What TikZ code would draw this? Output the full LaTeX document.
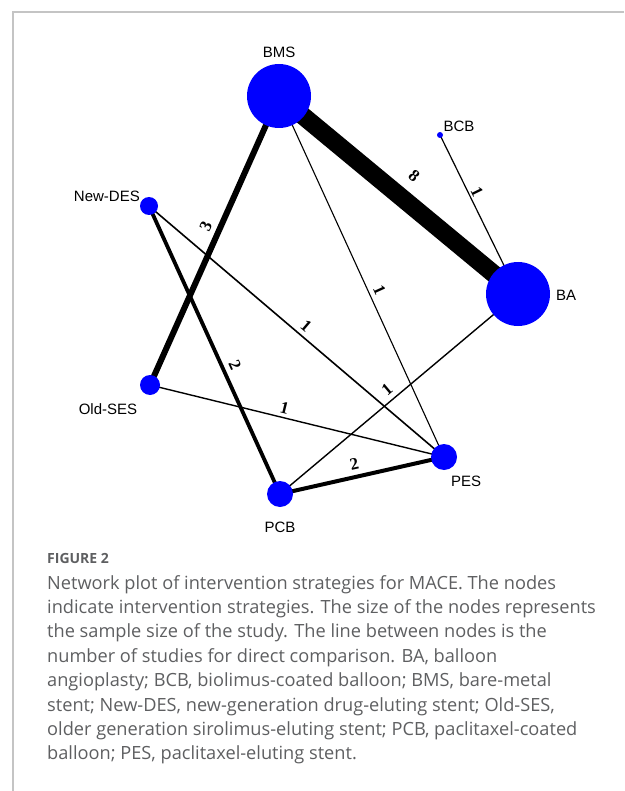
\documentclass[tikz,border=0pt]{standalone}
\usepackage{fontspec}
\setmainfont{Liberation Serif}
\newfontfamily\labfont{Liberation Sans}
\newfontfamily\capfont{Open Sans}
\usetikzlibrary{backgrounds}
\definecolor{capgray}{HTML}{5E5F61}
\definecolor{framegray}{HTML}{C4C4C4}
\tikzset{
  trt/.style={circle, fill=blue, inner sep=0pt, minimum size=#1},
  tlab/.style={font=\labfont\fontsize{15}{16}\selectfont, inner sep=0pt},
  edg/.style={line width=#1, black},
  num/.style={font=\bfseries\fontsize{17}{18}\selectfont, inner sep=0pt, sloped},
  capline/.style={anchor=base west, inner sep=0pt, text=capgray, font=\capfont\fontsize{18.2}{20}\selectfont}
}
\begin{document}
\begin{tikzpicture}[x=1pt,y=-1pt]
\useasboundingbox (0,0) rectangle (624,791);
\draw[framegray, line width=1.4pt] (13,791) -- (13,12) -- (624,12);
% treatment nodes
\node[trt=64pt] (bms) at (279,96) {};
\node[trt=6pt] (bcb) at (440,135) {};
\node[trt=64pt] (ba) at (518,294) {};
\node[trt=18pt] (newdes) at (149,206) {};
\node[trt=20pt] (oldses) at (150,385) {};
\node[trt=26pt] (pcb) at (280,494) {};
\node[trt=26pt] (pes) at (444,457) {};
% node labels
\node[tlab] (lbms) at (279,52) {BMS};
\node[tlab] (lbcb) at (459,126) {BCB};
\node[tlab] (lba) at (566,295) {BA};
\node[tlab, anchor=east] (lnewdes) at (140,196) {New-DES};
\node[tlab] (loldses) at (108,409) {Old-SES};
\node[tlab] (lpcb) at (280,527) {PCB};
\node[tlab] (lpes) at (466,481) {PES};
% edges
\begin{pgfonlayer}{background}
\draw[edg=18pt] (bms.center) -- node[num, pos=0.5, above=10pt] {8} (ba.center);
\draw[edg=1.2pt] (bcb.center) -- node[num, pos=0.38, above=2pt] {1} (ba.center);
\draw[edg=6pt] (bms.center) -- node[num, pos=0.47, above=5pt] {3} (oldses.center);
\draw[edg=3.8pt] (newdes.center) -- node[num, pos=0.57, above=5pt] {2} (pcb.center);
\draw[edg=1.6pt] (newdes.center) -- node[num, pos=0.51, above=4pt] {1} (pes.center);
\draw[edg=1.1pt] (bms.center) -- node[num, pos=0.55, above=4.5pt] {1} (pes.center);
\draw[edg=1.4pt] (oldses.center) -- node[num, pos=0.45, above=3.5pt] {1} (pes.center);
\draw[edg=1.4pt] (pcb.center) -- node[num, pos=0.48, above=5pt] {1} (ba.center);
\draw[edg=4pt] (pcb.center) -- node[num, pos=0.47, above=5pt] {2} (pes.center);
\end{pgfonlayer}
% caption
\node[anchor=base west, inner sep=0pt, text=capgray, font=\capfont\bfseries\fontsize{14}{16}\selectfont] (fig) at (47,563) {FIGURE 2};
\node[capline] (c1) at (47,589) {Network plot of intervention strategies for MACE. The nodes};
\node[capline] (c2) at (47,613.4) {indicate intervention strategies. The size of the nodes represents};
\node[capline] (c3) at (47,637.8) {the sample size of the study. The line between nodes is the};
\node[capline] (c4) at (47,662.2) {number of studies for direct comparison. BA, balloon};
\node[capline] (c5) at (47,686.6) {angioplasty; BCB, biolimus-coated balloon; BMS, bare-metal};
\node[capline] (c6) at (47,711) {stent; New-DES, new-generation drug-eluting stent; Old-SES,};
\node[capline] (c7) at (47,735.4) {older generation sirolimus-eluting stent; PCB, paclitaxel-coated};
\node[capline] (c8) at (47,759.8) {balloon; PES, paclitaxel-eluting stent.};
\end{tikzpicture}
\end{document}
